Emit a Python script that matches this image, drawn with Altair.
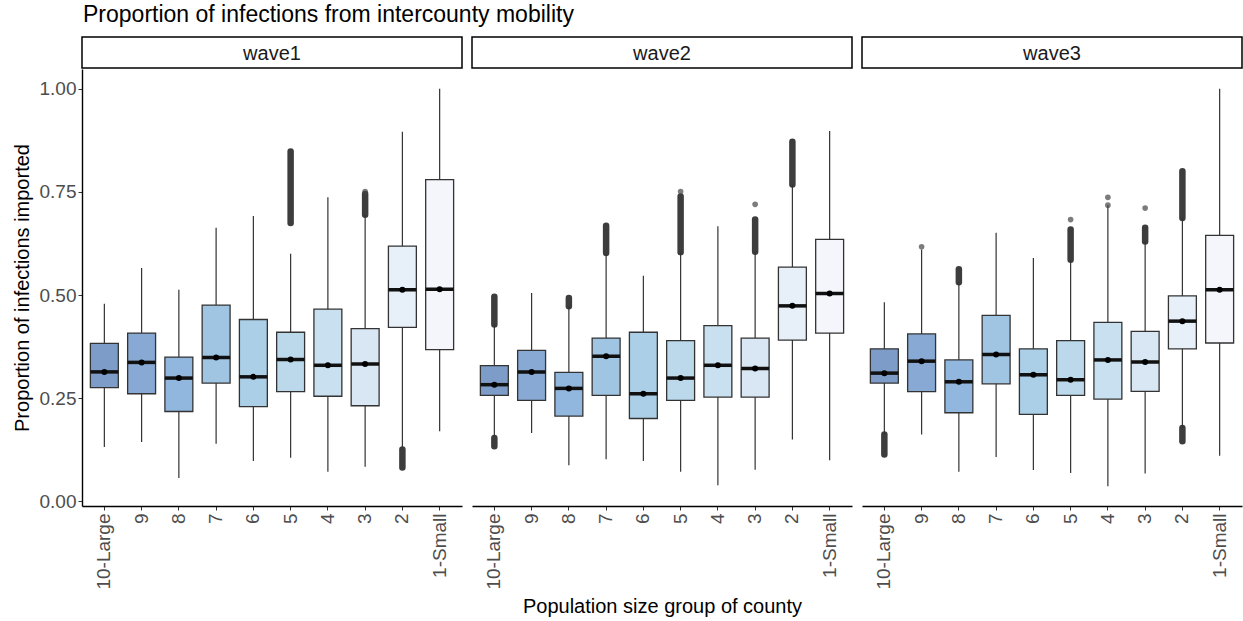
import altair as alt
import pandas as pd

GROUPS = ["10-Large", "9", "8", "7", "6", "5", "4", "3", "2", "1-Small"]
WAVES = ["wave1", "wave2", "wave3"]
COLORS = ["#7d9dc8", "#88a9d3", "#92b7de", "#a0c5e3", "#abcfe7",
          "#bcd8eb", "#c9e0f0", "#d8e7f3", "#e7f0f9", "#f5f6fc"]

W1_LOWER = [0.132, 0.144, 0.057, 0.140, 0.098, 0.106, 0.072, 0.084, 0.130, 0.170]
W1_Q1 = [0.276, 0.261, 0.218, 0.287, 0.230, 0.266, 0.255, 0.232, 0.422, 0.368]
W1_MEDIAN = [0.314, 0.337, 0.299, 0.349, 0.302, 0.344, 0.330, 0.333, 0.513, 0.514]
W1_MEAN = [0.314, 0.337, 0.299, 0.349, 0.302, 0.344, 0.330, 0.333, 0.513, 0.514]
W1_Q3 = [0.383, 0.408, 0.350, 0.476, 0.441, 0.410, 0.466, 0.419, 0.619, 0.780]
W1_UPPER = [0.479, 0.566, 0.513, 0.663, 0.692, 0.600, 0.737, 0.695, 0.896, 1.000]

W2_LOWER = [0.158, 0.166, 0.088, 0.102, 0.098, 0.072, 0.039, 0.077, 0.150, 0.100]
W2_Q1 = [0.257, 0.245, 0.207, 0.257, 0.201, 0.245, 0.253, 0.253, 0.391, 0.408]
W2_MEDIAN = [0.283, 0.314, 0.274, 0.352, 0.261, 0.299, 0.330, 0.322, 0.474, 0.504]
W2_MEAN = [0.283, 0.314, 0.274, 0.352, 0.261, 0.299, 0.330, 0.322, 0.474, 0.504]
W2_Q3 = [0.329, 0.366, 0.313, 0.396, 0.410, 0.390, 0.426, 0.396, 0.568, 0.635]
W2_UPPER = [0.429, 0.505, 0.473, 0.602, 0.547, 0.604, 0.667, 0.605, 0.768, 0.898]

W3_LOWER = [0.162, 0.162, 0.072, 0.108, 0.076, 0.069, 0.037, 0.068, 0.178, 0.111]
W3_Q1 = [0.287, 0.266, 0.215, 0.285, 0.211, 0.257, 0.248, 0.267, 0.370, 0.384]
W3_MEDIAN = [0.311, 0.340, 0.290, 0.356, 0.307, 0.295, 0.343, 0.338, 0.437, 0.513]
W3_MEAN = [0.311, 0.340, 0.290, 0.356, 0.307, 0.295, 0.343, 0.338, 0.437, 0.513]
W3_Q3 = [0.370, 0.406, 0.343, 0.451, 0.370, 0.390, 0.434, 0.412, 0.498, 0.645]
W3_UPPER = [0.483, 0.610, 0.531, 0.651, 0.590, 0.586, 0.718, 0.630, 0.687, 1.000]

# dense runs of outliers (drawn as a solid column of overlapping dots)
CLUSTER_WAVE = ["wave1", "wave1", "wave1",
                "wave2", "wave2", "wave2", "wave2", "wave2", "wave2", "wave2",
                "wave3", "wave3", "wave3", "wave3", "wave3", "wave3"]
CLUSTER_GROUP = ["5", "3", "2",
                 "10-Large", "10-Large", "8", "7", "5", "3", "2",
                 "10-Large", "8", "5", "3", "2", "2"]
CLUSTER_LO = [0.675, 0.695, 0.082,
              0.429, 0.134, 0.473, 0.602, 0.604, 0.605, 0.768,
              0.114, 0.531, 0.586, 0.630, 0.687, 0.146]
CLUSTER_HI = [0.848, 0.745, 0.126,
              0.496, 0.154, 0.493, 0.668, 0.739, 0.683, 0.872,
              0.162, 0.563, 0.659, 0.663, 0.800, 0.178]

# isolated outliers
POINT_WAVE = ["wave1", "wave2", "wave2", "wave3", "wave3", "wave3", "wave3", "wave3"]
POINT_GROUP = ["3", "5", "3", "9", "5", "4", "4", "3"]
POINT_VALUE = [0.751, 0.751, 0.720, 0.617, 0.683, 0.737, 0.718, 0.711]

STATS = {
    "wave1": (W1_LOWER, W1_Q1, W1_MEDIAN, W1_MEAN, W1_Q3, W1_UPPER),
    "wave2": (W2_LOWER, W2_Q1, W2_MEDIAN, W2_MEAN, W2_Q3, W2_UPPER),
    "wave3": (W3_LOWER, W3_Q1, W3_MEDIAN, W3_MEAN, W3_Q3, W3_UPPER),
}

rows = []
for w in WAVES:
    lo, q1, med, mean, q3, up = STATS[w]
    for i, g in enumerate(GROUPS):
        rows.append({"wave": w, "group": g, "lower": lo[i], "q1": q1[i],
                     "median": med[i], "mean": mean[i], "q3": q3[i], "upper": up[i]})
stats_df = pd.DataFrame(rows)
clusters_df = pd.DataFrame({"wave": CLUSTER_WAVE, "group": CLUSTER_GROUP,
                            "lo": CLUSTER_LO, "hi": CLUSTER_HI})
points_df = pd.DataFrame({"wave": POINT_WAVE, "group": POINT_GROUP, "value": POINT_VALUE})

FONT = "Liberation Sans"
PW = 380
PH = 437
SH = 31
STEP = PW / 10.2
BW = STEP * 0.75

yscale = alt.Scale(domain=[-0.011, 1.048], nice=False, zero=False)
cscale = alt.Scale(domain=GROUPS, range=COLORS)


def panel(w, first, mid):
    xaxis = alt.Axis(labelAngle=270, labelFontSize=19, labelColor="#4d4d4d", labelFont=FONT,
                     tickColor="#333333", tickSize=4, domainColor="black", domainWidth=1.4,
                     labelPadding=3,
                     title="Population size group of county" if mid else None,
                     titleFont=FONT, titleFontSize=20, titleFontWeight="normal",
                     titleColor="black", titlePadding=7)
    x = alt.X("group:N", sort=GROUPS,
              scale=alt.Scale(domain=GROUPS, paddingInner=0.25, paddingOuter=0.225),
              axis=xaxis)
    if first:
        yaxis = alt.Axis(values=[0, 0.25, 0.5, 0.75, 1.0], format=".2f", grid=False,
                         labelFontSize=19, labelColor="#4d4d4d", labelFont=FONT,
                         tickColor="#333333", tickSize=4, domainColor="black", domainWidth=1.4,
                         labelPadding=2,
                         title="Proportion of infections imported", titleFont=FONT,
                         titleFontSize=20, titleFontWeight="normal", titleColor="black",
                         titlePadding=7)
    else:
        yaxis = None
    sd = alt.Chart(stats_df[stats_df.wave == w])
    whisk = sd.mark_rule(color="#333333", strokeWidth=1.2).encode(
        x=x, y=alt.Y("lower:Q", scale=yscale, axis=yaxis), y2="upper:Q")
    box = sd.mark_bar(stroke="#333333", strokeWidth=1.3).encode(
        x=x, y=alt.Y("q1:Q", scale=yscale), y2="q3:Q",
        color=alt.Color("group:N", scale=cscale, legend=None))
    med = sd.mark_tick(color="#111111", thickness=3.5, size=BW, orient="horizontal",
                       opacity=1).encode(
        x=x, y=alt.Y("median:Q", scale=yscale))
    mean = sd.mark_point(filled=True, color="black", size=36, opacity=1).encode(
        x=x, y=alt.Y("mean:Q", scale=yscale))
    cl = alt.Chart(clusters_df[clusters_df.wave == w]).mark_rule(
        color="#333333", strokeWidth=6.5, strokeCap="round", opacity=0.95).encode(
        x=x, y=alt.Y("lo:Q", scale=yscale), y2="hi:Q")
    pt = alt.Chart(points_df[points_df.wave == w]).mark_point(
        filled=True, color="#444444", size=32, opacity=0.7).encode(
        x=x, y=alt.Y("value:Q", scale=yscale))
    return alt.layer(whisk, cl, pt, box, med, mean).properties(width=PW, height=PH)


def strip(w):
    base = alt.Chart(pd.DataFrame({"wave": [w]}))
    rect = base.mark_rect(fill="white", stroke="black", strokeWidth=1.5).encode(
        x=alt.value(0), x2=alt.value(PW), y=alt.value(0), y2=alt.value(SH))
    txt = base.mark_text(fontSize=20, font=FONT, color="#1a1a1a").encode(
        x=alt.value(PW / 2), y=alt.value(SH / 2 + 1), text="wave:N")
    return alt.layer(rect, txt).properties(width=PW, height=SH)


cols = []
for i, w in enumerate(WAVES):
    cols.append(alt.vconcat(strip(w), panel(w, i == 0, i == 1), spacing=0))

chart = alt.hconcat(*cols, spacing=8).properties(
    title=alt.TitleParams("Proportion of infections from intercounty mobility",
                          anchor="start", fontSize=23, fontWeight="normal", font=FONT,
                          color="black", dx=71, offset=9),
    padding={"left": 12, "top": 4, "right": 0, "bottom": 2},
).configure_view(stroke=None)

chart.save("out.html", embed_options={"renderer": "svg", "actions": False})
